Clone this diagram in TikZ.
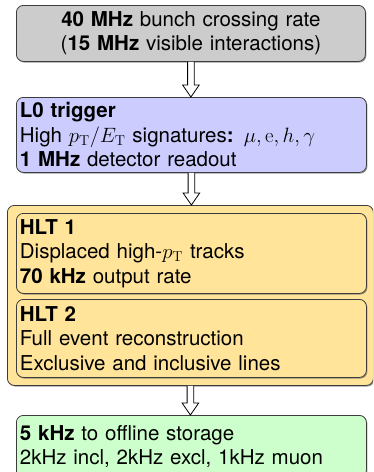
\documentclass[tikz,border=0pt]{standalone}
\usepackage[no-math]{fontspec}
\setmainfont{TeX Gyre Heros}
\usetikzlibrary{shadows,calc}
\definecolor{boxgray}{RGB}{204,204,204}
\definecolor{boxblue}{RGB}{204,204,255}
\definecolor{boxorange}{RGB}{255,228,153}
\definecolor{boxgreen}{RGB}{204,255,204}
\definecolor{edge}{RGB}{60,60,60}
\tikzset{
  box/.style={draw=edge, line width=0.8pt, rounded corners=7pt,
    drop shadow={shadow xshift=1pt, shadow yshift=-1.2pt, opacity=0.55, fill=black!70},
    inner xsep=3.5pt, inner ysep=2pt, anchor=north west,
    font=\fontsize{20.5}{24.5}\selectfont},
  flowarrow/.style={draw=black, line width=0.8pt, fill=white, line join=miter}
}
\newcommand\bigflow[2]{%
  \path[flowarrow] let \p1=(#1.south), \p2=(#2.north) in
    (\x1-3.3pt,\y1) -- (\x1-3.3pt,\y2+12pt) -- (\x1-8.3pt,\y2+12pt) -- (\x1,\y2)
    -- (\x1+8.3pt,\y2+12pt) -- (\x1+3.3pt,\y2+12pt) -- (\x1+3.3pt,\y1);}
\begin{document}
\begin{tikzpicture}[x=1pt,y=-1pt]
\useasboundingbox (0,0) rectangle (373,472);
\clip (0,0) rectangle (373,472);
\node[box, fill=boxgray, minimum width=349pt, minimum height=56pt, text width=342pt, align=center] (src) at (16,5)
  {\textbf{40 MHz} bunch crossing rate\\(\textbf{15 MHz} visible interactions)};
\node[box, fill=boxblue, minimum width=350pt, minimum height=75pt, text width=343pt, align=left] (lzero) at (16,97)
  {\textbf{L0 trigger}\\High $p_\mathrm{T}/E_\mathrm{T}$ signatures\textbf{:} $\mu, \mathrm{e}, h, \gamma$\\\textbf{1 MHz} detector readout};
\node[box, fill=boxorange, minimum width=366pt, minimum height=180pt, text width=359pt] (hlt) at (7,205) {};
\node[box, fill=boxorange, minimum width=350pt, minimum height=80pt, text width=343pt, align=left] (hltone) at (16,213)
  {\textbf{HLT 1}\\Displaced high-$p_\mathrm{T}$ tracks\\\textbf{70 kHz} output rate};
\node[box, fill=boxorange, minimum width=350pt, minimum height=78pt, text width=343pt, align=left] (hlttwo) at (16,299)
  {\textbf{HLT 2}\\Full event reconstruction\\Exclusive and inclusive lines};
\node[box, fill=boxgreen, minimum width=350pt, minimum height=62pt, text width=343pt, align=left] (store) at (16,415)
  {\textbf{5 kHz} to offline storage\\2kHz incl, 2kHz excl, 1kHz muon};
\bigflow{src}{lzero}
\bigflow{lzero}{hlt}
\bigflow{hlt}{store}
\end{tikzpicture}
\end{document}
